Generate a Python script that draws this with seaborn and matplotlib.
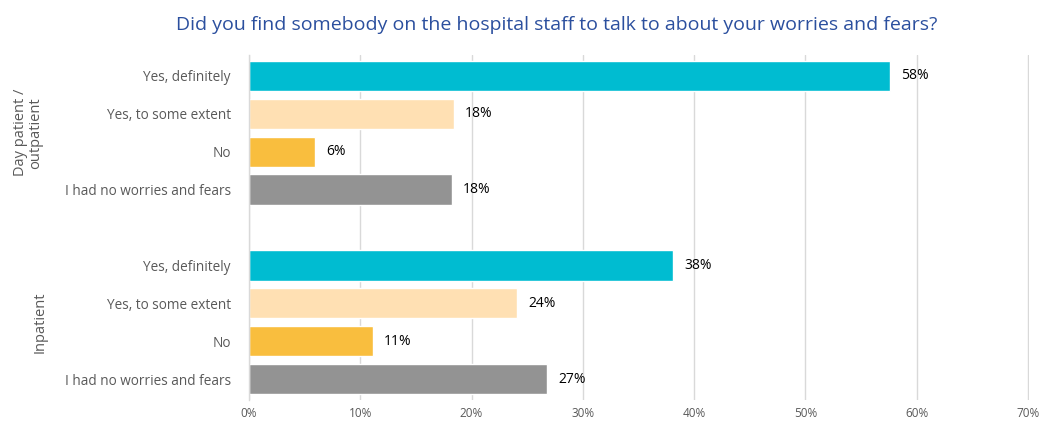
# 住院/門診病人是否找到可談心的醫院員工（水平條形圖）

import matplotlib
matplotlib.use("Agg")
import matplotlib.pyplot as plt
import matplotlib.transforms as mtransforms
import pandas as pd
import seaborn as sns

# 資料
groups = ["Day patient /\noutpatient", "Inpatient"]
responses = ["Yes, definitely", "Yes, to some extent", "No",
             "I had no worries and fears"]
day_values = [57.6, 18.4, 5.9, 18.2]
inpatient_values = [38.1, 24.1, 11.1, 26.8]
colors = ["#00BCD1", "#FFE0B3", "#F9BE3E", "#939393"]

rows = []
for g, vals in zip(groups, [day_values, inpatient_values]):
    for r, v in zip(responses, vals):
        rows.append({"key": g + "|" + r, "group": g, "response": r, "value": v})
df = pd.DataFrame(rows)

# 兩組中間留一個空格
order = [groups[0] + "|" + r for r in responses] + [" "] + \
        [groups[1] + "|" + r for r in responses]

sns.set_style("white")
plt.rcParams['font.family'] = ['Open Sans', 'DejaVu Sans']

fig = plt.figure(figsize=(10.41, 4.23), dpi=100)
ax = fig.add_axes([249 / 1041, 1 - 400 / 423, 780 / 1041, 345 / 423])

sns.barplot(data=df, y="key", x="value", hue="response", order=order,
            hue_order=responses, palette=colors, dodge=False, legend=False,
            width=0.8, orient="h", ax=ax, saturation=1)

ax.set_xlim(0, 70.1)
ax.set_ylim(8.55, -0.55)
ax.set_xticks(range(0, 71, 10))
ax.set_xticklabels([f"{t}%" for t in range(0, 71, 10)], fontsize=8.5,
                   color="#595959")
ax.set_yticks(range(len(order)))
ax.set_yticklabels([k.split("|")[-1] for k in order], fontsize=9.8,
                   color="#595959")
ax.tick_params(axis="y", length=0, pad=13)
ax.tick_params(axis="x", length=0, pad=5)
ax.set_xlabel("")
ax.set_ylabel("")
ax.set_axisbelow(True)
ax.grid(axis="x", color="#D9D9D9", linewidth=1)
for s in ["top", "right", "bottom"]:
    ax.spines[s].set_visible(False)
ax.spines["left"].set_color("#D9D9D9")
ax.spines["left"].set_linewidth(1)

# 數值標籤
for c in ax.containers:
    vals = [b.get_width() for b in c]
    ax.bar_label(c, labels=[f"{v:.0f}%" if v == v else "" for v in vals],
                 padding=8, fontsize=10, color="#000000")

# 組別標籤（旋轉）
trans = mtransforms.blended_transform_factory(fig.transFigure, ax.transData)
ax.text(28 / 1041, 1.5, groups[0], rotation=90, ha="center", va="center",
        fontsize=10.5, color="#595959", transform=trans, linespacing=1.0)
ax.text(40 / 1041, 6.5, groups[1], rotation=90, ha="center", va="center",
        fontsize=10.5, color="#595959", transform=trans)

fig.text(557 / 1041, 1 - 25 / 423,
         "Did you find somebody on the hospital staff to talk to about your worries and fears?",
         ha="center", va="center", fontsize=14, color="#2B4F9E")

fig.savefig("out.png", dpi=100)
